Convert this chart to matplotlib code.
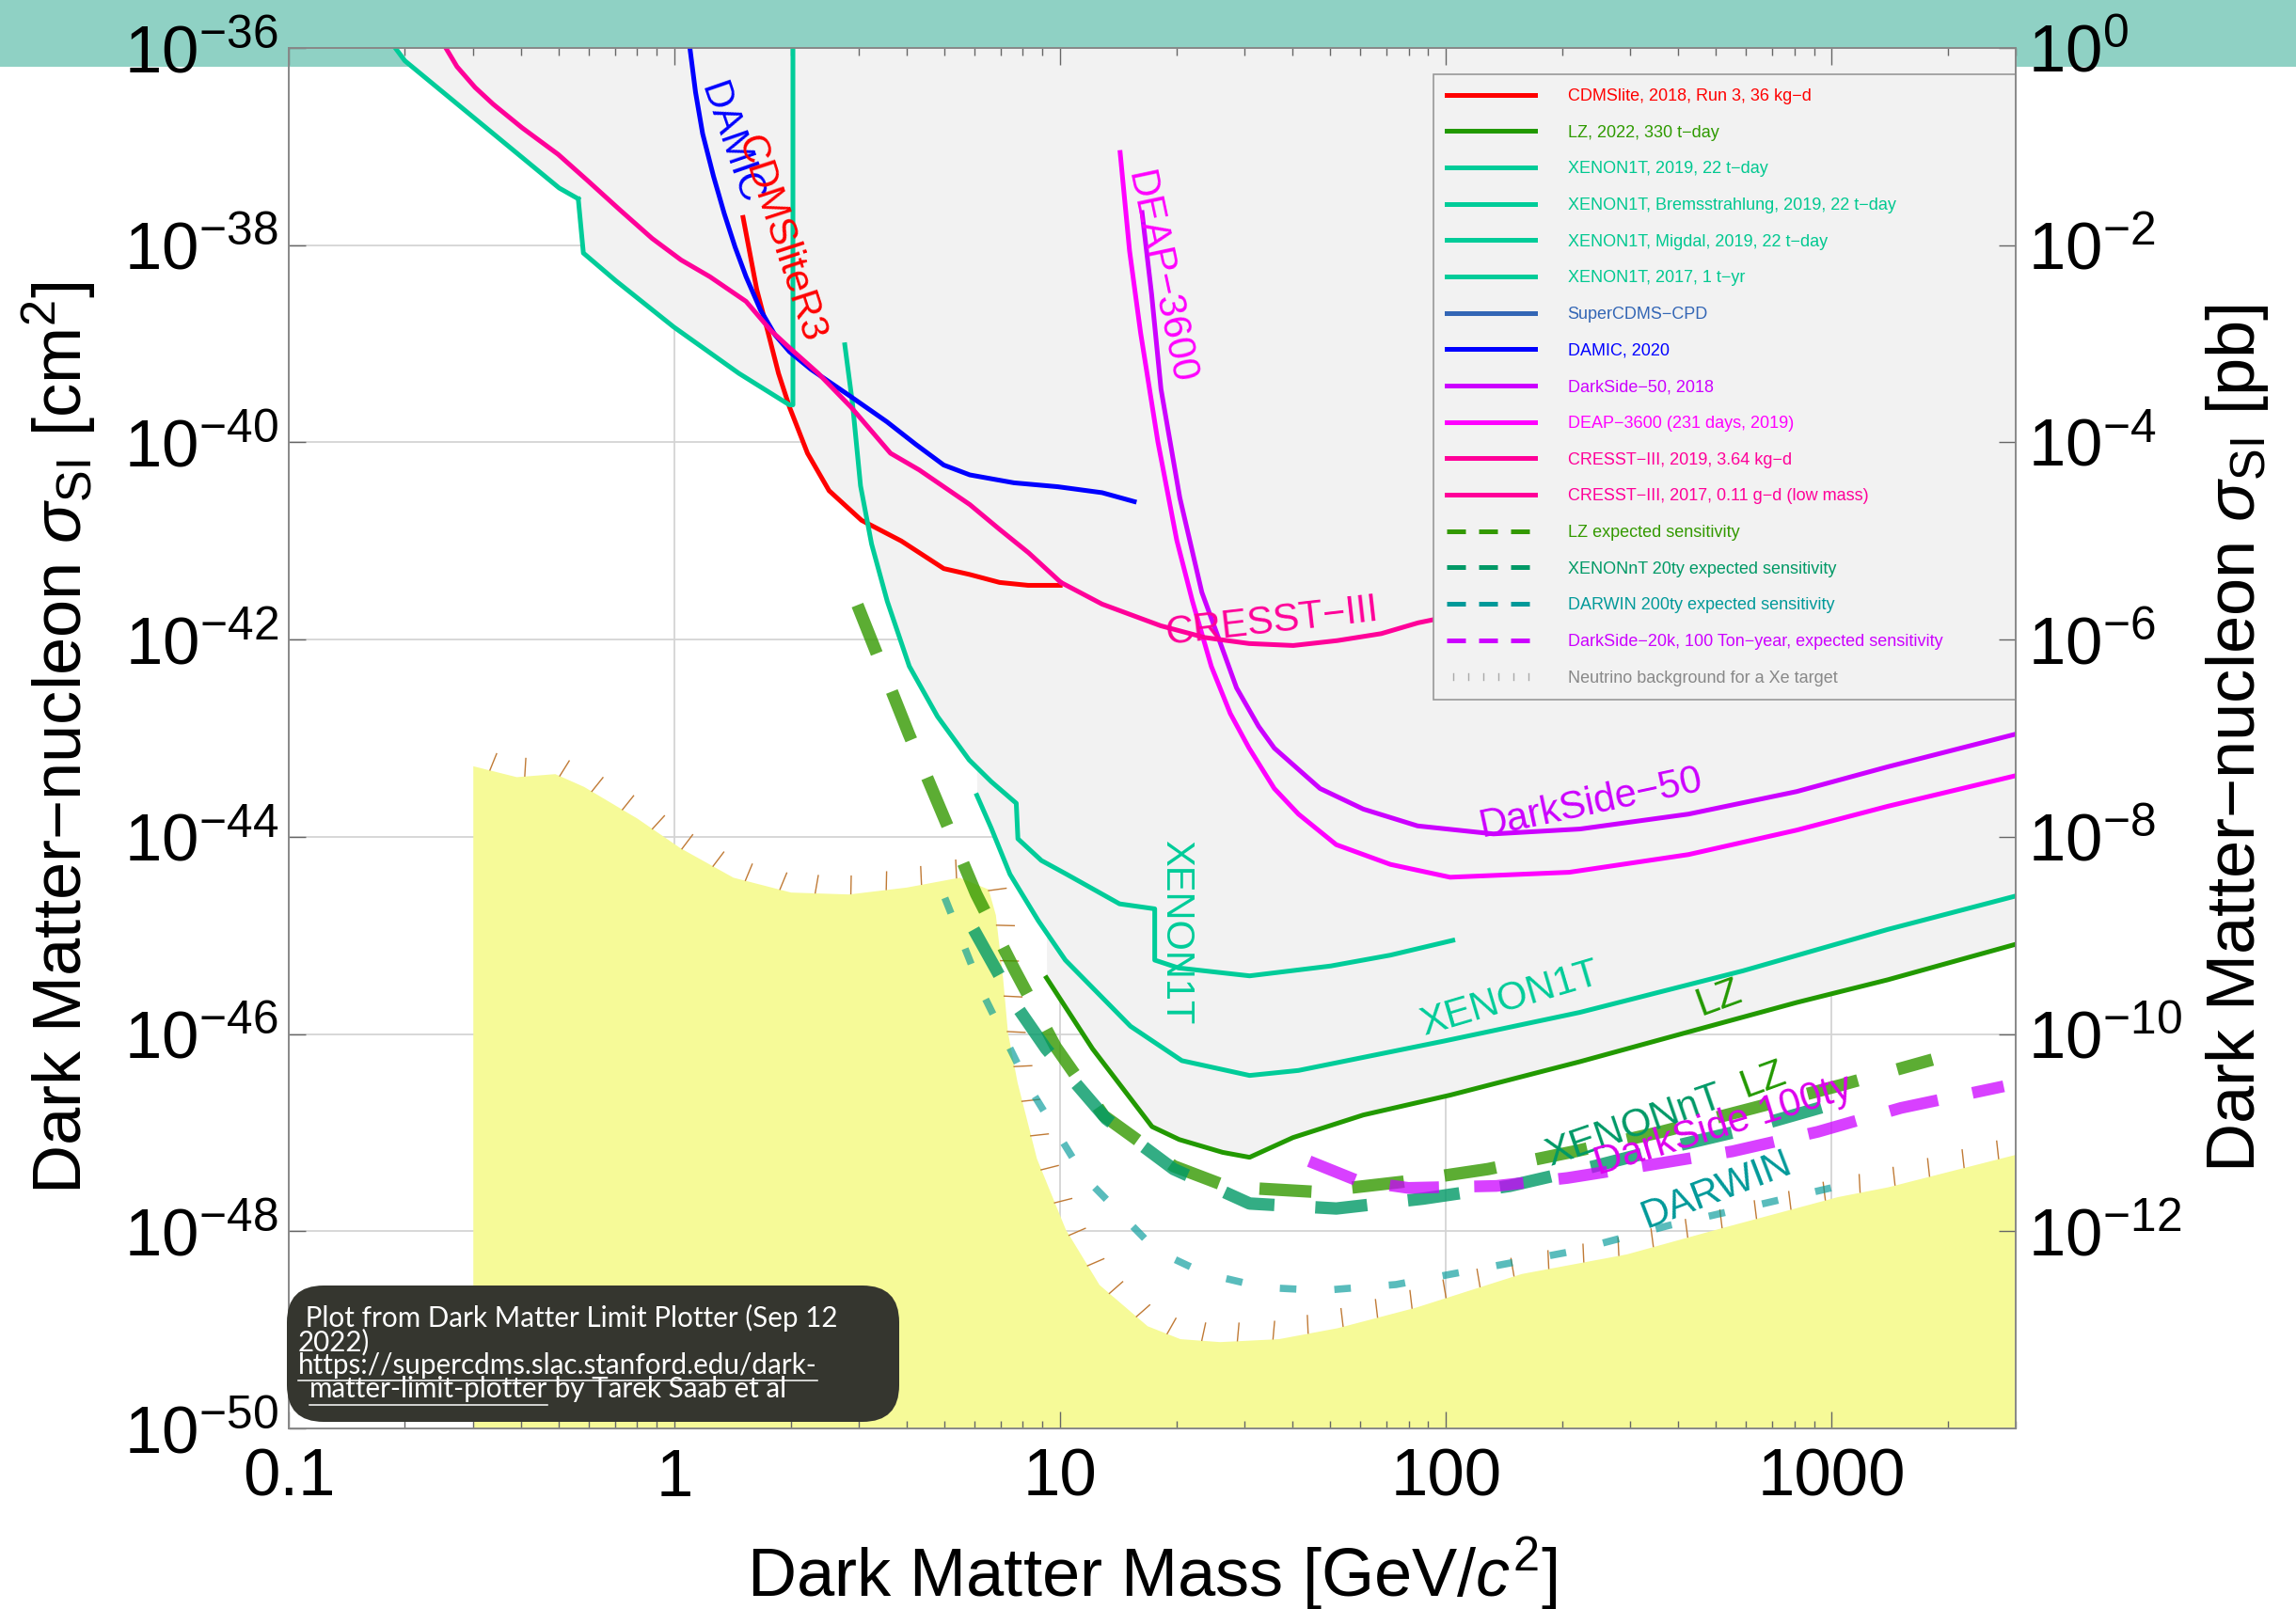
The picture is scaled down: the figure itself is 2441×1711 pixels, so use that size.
import numpy as np
import matplotlib
matplotlib.use('Agg')
import matplotlib.pyplot as plt
from matplotlib.lines import Line2D
from matplotlib.patches import Rectangle, FancyBboxPatch
from matplotlib import patheffects
from matplotlib.ticker import FixedLocator, FuncFormatter, LogLocator, NullLocator, NullFormatter

plt.rcParams['font.family'] = 'Liberation Sans'
plt.rcParams['mathtext.fontset'] = 'custom'
plt.rcParams['mathtext.rm'] = 'Liberation Sans'
plt.rcParams['mathtext.it'] = 'Liberation Sans:italic'
plt.rcParams['mathtext.bf'] = 'Liberation Sans:bold'

# ---- data: WIMP mass [GeV/c^2] and SI cross section [cm^2] ----
cdms_mass = [1.506, 1.634, 1.744, 1.861, 1.986, 2.212, 2.516, 3.055, 3.873, 4.99, 5.83, 6.96, 8.26, 10.0]
cdms_xs = [1.91e-38, 3.55e-39, 1.35e-39, 5.0e-40, 2.29e-40, 7.76e-41, 3.24e-41, 1.62e-41, 1.0e-41,
           5.25e-42, 4.57e-42, 3.80e-42, 3.55e-42, 3.55e-42]

damic_mass = [1.098, 1.134, 1.183, 1.262, 1.346, 1.436, 1.533, 1.672, 1.822, 1.986, 2.259, 2.803, 3.552,
              4.222, 4.99, 5.83, 7.59, 9.86, 12.84, 15.56]
damic_xs = [9.55e-37, 3.55e-37, 1.35e-37, 5.01e-38, 2.09e-38, 9.55e-39, 4.79e-39, 2.19e-39, 1.23e-39,
            8.32e-40, 5.50e-40, 3.09e-40, 1.62e-40, 9.55e-41, 5.89e-41, 4.68e-41, 3.89e-41, 3.55e-41,
            3.09e-41, 2.51e-41]

cresst17_mass = [0.2554, 0.2730, 0.3041, 0.3388, 0.4027, 0.4996, 0.5934, 0.7209, 0.8751, 1.040, 1.235,
                 1.533, 1.782, 1.986, 2.359, 2.865, 3.631, 4.312, 4.99, 5.83, 6.95, 8.28, 10.04]
cresst17_xs = [1.0e-36, 6.46e-37, 3.98e-37, 2.69e-37, 1.55e-37, 8.32e-38, 4.57e-38, 2.29e-38, 1.17e-38,
               7.08e-39, 4.79e-39, 2.69e-39, 1.35e-39, 9.12e-40, 5.01e-40, 2.29e-40, 7.76e-41, 5.25e-41,
               3.55e-41, 2.34e-41, 1.32e-41, 7.59e-42, 3.80e-42]

cresst19_mass = [10.04, 12.84, 18.23, 23.7, 30.9, 40.2, 52.3, 68.0, 84.7, 103.6]
cresst19_xs = [3.80e-42, 2.29e-42, 1.38e-42, 1.05e-42, 9.12e-43, 8.71e-43, 9.77e-43, 1.15e-42, 1.48e-42, 1.74e-42]

brems_mass = [0.1889, 0.2, 0.5023, 0.563]
brems_xs = [1.0e-36, 7.41e-37, 3.80e-38, 2.95e-38]

migdal_mass = [0.563, 0.5805, 0.7039, 0.9956, 1.469, 1.986, 2.028, 2.028]
migdal_xs = [2.95e-38, 8.32e-39, 4.37e-39, 1.48e-39, 5.01e-40, 2.40e-40, 2.40e-40, 1.0e-36]

x1t19_mass = [2.764, 2.895, 3.036, 3.243, 3.561, 4.062, 4.807, 5.805, 6.622, 7.692, 7.768, 8.938, 10.39,
              14.25, 17.58, 17.58, 20.26, 30.97, 50.3, 71.8, 104.2]
x1t19_xs = [9.77e-40, 2.45e-40, 3.63e-41, 9.33e-42, 2.45e-42, 5.37e-43, 1.66e-43, 6.03e-44, 3.63e-44,
            2.19e-44, 9.55e-45, 5.75e-45, 4.17e-45, 2.09e-45, 1.86e-45, 5.62e-46, 4.68e-46, 3.89e-46,
            4.90e-46, 6.31e-46, 8.91e-46]

x1t17_mass = [6.081, 6.622, 7.409, 8.774, 10.31, 15.21, 20.67, 30.97, 41.46, 99.2, 222.7, 588.3, 1398, 3000]
x1t17_xs = [2.63e-44, 1.23e-44, 4.17e-45, 1.41e-45, 5.62e-46, 1.20e-46, 5.37e-47, 3.80e-47, 4.27e-47,
            8.51e-47, 1.66e-46, 4.37e-46, 1.15e-45, 2.51e-45]

lz_mass = [9.21, 12.13, 17.30, 20.35, 26.36, 30.97, 40.13, 61.07, 102.5, 222.7, 425.6, 812.3, 1398, 3000]
lz_xs = [3.72e-46, 7.08e-47, 1.15e-47, 8.51e-48, 6.31e-48, 5.62e-48, 8.91e-48, 1.51e-47, 2.40e-47,
         5.25e-47, 1.05e-46, 2.09e-46, 3.55e-46, 8.13e-46]

deap_mass = [14.30, 15.13, 16.16, 17.91, 20.05, 22.02, 24.64, 27.60, 30.87, 35.89, 41.46, 51.96, 71.78,
             102.5, 208.9, 425.6, 812.3, 1398, 3000]
deap_xs = [8.71e-38, 8.71e-39, 1.29e-39, 1.02e-40, 1.02e-41, 2.45e-42, 5.37e-43, 1.78e-43, 7.94e-44,
           3.09e-44, 1.70e-44, 8.32e-45, 5.25e-45, 3.89e-45, 4.37e-45, 6.61e-45, 1.17e-44, 2.04e-44, 4.17e-44]

ds50_mass = [16.30, 17.26, 18.25, 20.42, 23.29, 25.59, 28.65, 32.68, 35.89, 47.16, 61.07, 84.44, 132.8,
             222.7, 425.6, 812.3, 1398, 3000]
ds50_xs = [2.14e-38, 3.16e-39, 3.47e-40, 2.75e-41, 3.02e-42, 1.10e-42, 3.24e-43, 1.32e-43, 7.94e-44,
           3.09e-44, 1.91e-44, 1.29e-44, 1.07e-44, 1.20e-44, 1.70e-44, 2.88e-44, 5.13e-44, 1.10e-43]

lzproj_mass = [2.981, 4.051, 4.953, 6.055, 7.618, 9.731, 12.98, 19.68, 27.23, 45.68, 76.6, 128.6, 215.7,
               362.2, 627.8, 1052, 1824]
lzproj_xs = [2.24e-42, 1.10e-43, 1.70e-44, 2.63e-45, 4.47e-46, 7.41e-47, 1.48e-47, 4.57e-48, 2.82e-48,
             2.51e-48, 3.16e-48, 4.27e-48, 6.46e-48, 1.02e-47, 1.78e-47, 3.02e-47, 5.50e-47]

xnt_mass = [5.966, 7.685, 9.192, 13.16, 19.68, 30.97, 51.96, 87.2, 146.3, 237.7, 335, 563.9, 1031]
xnt_xs = [1.15e-45, 1.95e-46, 7.08e-47, 1.38e-47, 4.27e-48, 1.91e-48, 1.70e-48, 2.14e-48, 2.88e-48,
          4.47e-48, 6.31e-48, 1.02e-47, 2.0e-47]

darwin_mass = [5.023, 6.321, 8.312, 11.56, 17.80, 23.72, 33.71, 47.86, 74.2, 115.1, 208.9, 380.1, 702.2, 995.7]
darwin_xs = [2.40e-45, 2.51e-46, 2.88e-47, 3.55e-48, 6.31e-49, 3.72e-49, 2.69e-49, 2.51e-49, 2.88e-49,
             3.98e-49, 6.17e-49, 1.15e-48, 2.0e-48, 2.75e-48]

ds20k_mass = [44.22, 59.2, 79.9, 135.1, 206.6, 335, 552.7, 920.9, 1513, 2793]
ds20k_xs = [5.13e-48, 3.24e-48, 2.75e-48, 2.88e-48, 3.47e-48, 4.68e-48, 6.46e-48, 1.02e-47, 1.78e-47, 2.95e-47]

nu_mass = [0.3001, 0.3891, 0.4896, 0.5815, 0.7984, 1.033, 1.418, 2.001, 2.828, 3.991, 5.473, 6.506, 6.792,
           7.09, 7.299, 7.733, 8.677, 10.31, 12.61, 16.80, 20.44, 25.90, 36.79, 52.25, 83.55, 156.7, 293.9,
           511.1, 1034, 1398, 3000]
nu_xs = [5.25e-44, 4.07e-44, 4.37e-44, 3.24e-44, 1.55e-44, 7.76e-45, 3.89e-45, 2.75e-45, 2.63e-45, 3.09e-45,
         3.89e-45, 2.95e-45, 1.62e-45, 3.72e-46, 1.05e-46, 3.24e-47, 5.50e-48, 1.05e-48, 2.88e-49, 1.10e-49,
         8.13e-50, 7.59e-50, 8.13e-50, 1.05e-49, 1.70e-49, 3.72e-49, 5.89e-49, 1.07e-48, 2.24e-48, 2.82e-48,
         6.03e-48]

x_ticks = [0.1, 1, 10, 100, 1000]
x_ticklabels = ['0.1', '1', '10', '100', '1000']
y_ticks = [1e-36, 1e-38, 1e-40, 1e-42, 1e-44, 1e-46, 1e-48, 1e-50]
y2_ticks = [1e0, 1e-2, 1e-4, 1e-6, 1e-8, 1e-10, 1e-12]

W, H = 2441, 1711
fig = plt.figure(figsize=(W / 100, H / 100), dpi=100)
fig.patch.set_facecolor('white')
# teal banner across the top
fig.add_artist(Rectangle((0, 1 - 71 / H), 1, 71 / H, transform=fig.transFigure,
                         facecolor='#8fd1c4', edgecolor='none', zorder=-5))

ax = fig.add_axes([307 / W, 1 - 1519 / H, 1836 / W, 1468 / H])
ax.set_facecolor('none')
ax.set_xscale('log')
ax.set_yscale('log')
ax.set_xlim(0.1, 3000)
ax.set_ylim(1e-50, 1e-36)

for xv in x_ticks[1:]:
    ax.axvline(xv, color='#d4d4d4', lw=1.3, zorder=0.1)
for yv in y_ticks[1:-1]:
    ax.axhline(yv, color='#d4d4d4', lw=1.3, zorder=0.1)

# excluded region: everything above the lowest existing limit
limits = [(cdms_mass, cdms_xs), (damic_mass, damic_xs), (cresst17_mass, cresst17_xs),
          (cresst19_mass, cresst19_xs), (brems_mass, brems_xs), (migdal_mass, migdal_xs),
          (x1t19_mass, x1t19_xs), (x1t17_mass, x1t17_xs), (lz_mass, lz_xs),
          (deap_mass, deap_xs), (ds50_mass, ds50_xs)]
grid = np.logspace(-1, np.log10(3000), 5000)
env = np.full(grid.size, -36.0)
for m, s in limits:
    m = np.asarray(m)
    inside = (grid >= m.min()) & (grid <= m.max())
    vals = np.interp(np.log10(grid[inside]), np.log10(m), np.log10(s))
    env[inside] = np.minimum(env[inside], vals)
ax.fill_between(grid, 10 ** env, 1e-36, color='#f2f2f2', lw=0, zorder=0.3)

# neutrino floor
ax.fill_between(nu_mass, nu_xs, 1e-50, color='#f6fa98', lw=0, zorder=0.4)
ax.plot(nu_mass, nu_xs, color='#c07a35', lw=1.0, zorder=2,
        path_effects=[patheffects.TickedStroke(spacing=27, angle=82, length=0.5)])

lw = 3.6
l_cdms, = ax.plot(cdms_mass, cdms_xs, color='#ff0000', lw=lw, zorder=3)
l_lz, = ax.plot(lz_mass, lz_xs, color='#229900', lw=lw, zorder=3)
l_x19, = ax.plot(x1t19_mass, x1t19_xs, color='#00cc99', lw=lw, zorder=3)
l_brems, = ax.plot(brems_mass, brems_xs, color='#00cc99', lw=lw, zorder=3)
l_migdal, = ax.plot(migdal_mass, migdal_xs, color='#00cc99', lw=lw, zorder=3)
l_x17, = ax.plot(x1t17_mass, x1t17_xs, color='#00cc99', lw=lw, zorder=3)
l_damic, = ax.plot(damic_mass, damic_xs, color='#0000ff', lw=lw, zorder=3)
l_ds50, = ax.plot(ds50_mass, ds50_xs, color='#cc00ff', lw=lw, zorder=3)
l_deap, = ax.plot(deap_mass, deap_xs, color='#ff00ff', lw=lw, zorder=3)
l_c19, = ax.plot(cresst19_mass, cresst19_xs, color='#ff0099', lw=lw, zorder=3)
l_c17, = ax.plot(cresst17_mass, cresst17_xs, color='#ff0099', lw=lw, zorder=3)

ax.plot(lzproj_mass, lzproj_xs, color='#339900', alpha=0.8, lw=9.5, dashes=(4.2, 3.3),
        dash_capstyle='butt', zorder=4)
ax.plot(xnt_mass, xnt_xs, color='#009966', alpha=0.8, lw=9.5, dashes=(4.2, 3.3),
        dash_capstyle='butt', zorder=4)
ax.plot(darwin_mass, darwin_xs, color='#009999', alpha=0.65, lw=5.5, dashes=(2.3, 5.3),
        dash_capstyle='butt', zorder=4)
ax.plot(ds20k_mass, ds20k_xs, color='#cc00ff', alpha=0.75, lw=9, dashes=(4.2, 3.0),
        dash_capstyle='butt', zorder=4)

# curve labels
curve_labels = [
    ('DAMIC', 1.40, 1.08e-37, -71, '#0000ff'),
    ('CDMSliteR3', 1.88, 1.15e-38, -72, '#ff0000'),
    ('DEAP\u22123600', 18.1, 4.7e-39, -78, '#ff00ff'),
    ('CRESST\u2212III', 35.5, 1.5e-42, 6.5, '#ff0099'),
    ('DarkSide\u221250', 238, 2.2e-44, 12, '#cc00ff'),
    ('XENON1T', 19.9, 1.07e-45, -90, '#00cc99'),
    ('XENON1T', 146, 2.24e-46, 16.5, '#00cc99'),
    ('LZ', 511, 2.3e-46, 20, '#229900'),
    ('XENONnT', 307, 1.15e-47, 19, '#009966'),
    ('LZ', 665, 3.4e-47, 20, '#229900'),
    ('DarkSide 100ty', 525, 1.17e-47, 17, '#dd00ee'),
    ('DARWIN', 502, 2.6e-48, 21, '#009999'),
]
for txt, xx, yy, rot, col in curve_labels:
    ax.text(xx, yy, txt, color=col, fontsize=30, rotation=rot, rotation_mode='anchor',
            ha='center', va='center', zorder=6)

# axes cosmetics
for sp in ax.spines.values():
    sp.set_color('#888888')
    sp.set_linewidth(1.2)
ax.xaxis.set_major_locator(FixedLocator(x_ticks))
ax.set_xticklabels(x_ticklabels)
ax.xaxis.set_minor_locator(LogLocator(base=10, subs=np.arange(2, 10)))
ax.xaxis.set_minor_formatter(NullFormatter())
ax.yaxis.set_major_locator(FixedLocator(y_ticks))
ax.yaxis.set_major_formatter(FuncFormatter(lambda v, p: r'$10^{%d}$' % round(np.log10(v))))
ax.yaxis.set_minor_locator(NullLocator())
ax.tick_params(which='major', direction='in', length=13, width=1.0, color='#666666',
               labelsize=51, top=True, right=False)
ax.tick_params(axis='x', which='major', pad=15)
ax.tick_params(axis='y', which='major', pad=8)
ax.tick_params(axis='x', which='minor', direction='in', length=6, width=1.0, color='#666666', top=True)

ax.set_xlabel('Dark Matter Mass [GeV/$c^2$]', fontsize=52, va='center')
ax.xaxis.set_label_coords(0.5, -0.105)
ax.set_ylabel('Dark Matter\u2212nucleon $\\sigma_{\\mathrm{SI}}$ [cm$^2$]', fontsize=52, va='center')
ax.yaxis.set_label_coords(-0.1334, 0.5)

ax2 = ax.twinx()
ax2.set_yscale('log')
ax2.set_ylim(1e-14, 1e0)
ax2.yaxis.set_major_locator(FixedLocator(y2_ticks))
ax2.yaxis.set_major_formatter(FuncFormatter(lambda v, p: r'$10^{%d}$' % round(np.log10(v))))
ax2.yaxis.set_minor_locator(NullLocator())
ax2.tick_params(which='major', direction='in', length=13, width=1.0, color='#666666',
                labelsize=51, pad=9)
for sp in ax2.spines.values():
    sp.set_color('#888888')
    sp.set_linewidth(1.2)
ax2.set_ylabel('Dark Matter\u2212nucleon $\\sigma_{\\mathrm{SI}}$ [pb]', fontsize=52, va='center')
ax2.yaxis.set_label_coords(1.1285, 0.5)

# legend
nu_handle = Line2D([], [], color='#aaaaaa', lw=1.0,
                   path_effects=[patheffects.TickedStroke(offset=(0, -3), spacing=10, angle=90, length=0.55)])
handles = [l_cdms, l_lz, l_x19, l_brems, l_migdal, l_x17,
           Line2D([], [], color='#3366b5', lw=lw), l_damic, l_ds50, l_deap, l_c19, l_c17,
           Line2D([], [], color='#339900', lw=3.6, dashes=(4, 2.8)),
           Line2D([], [], color='#009966', lw=3.6, dashes=(4, 2.8)),
           Line2D([], [], color='#009999', lw=3.6, dashes=(4, 2.8)),
           Line2D([], [], color='#cc00ff', lw=3.6, dashes=(4, 2.8)),
           nu_handle]
labels = ['CDMSlite, 2018, Run 3, 36 kg\u2212d', 'LZ, 2022, 330 t\u2212day', 'XENON1T, 2019, 22 t\u2212day',
          'XENON1T, Bremsstrahlung, 2019, 22 t\u2212day', 'XENON1T, Migdal, 2019, 22 t\u2212day',
          'XENON1T, 2017, 1 t\u2212yr', 'SuperCDMS\u2212CPD', 'DAMIC, 2020', 'DarkSide\u221250, 2018',
          'DEAP\u22123600 (231 days, 2019)', 'CRESST\u2212III, 2019, 3.64 kg\u2212d',
          'CRESST\u2212III, 2017, 0.11 g\u2212d (low mass)', 'LZ expected sensitivity',
          'XENONnT 20ty expected sensitivity', 'DARWIN 200ty expected sensitivity',
          'DarkSide\u221220k, 100 Ton\u2212year, expected sensitivity', 'Neutrino background for a Xe target']
label_colors = ['#ff0000', '#2e9a00', '#00c890', '#00c890', '#00c890', '#00c890', '#3366b5', '#0000ff',
                '#cc00ff', '#ff00ff', '#ff0099', '#ff0099', '#339900', '#009966', '#009999', '#cc00ff',
                '#888888']
leg = ax.legend(handles, labels, loc='upper left', bbox_to_anchor=(0.6628, 0.9806, 0.3372, 0),
                mode='expand', borderaxespad=0,
                fontsize=13, labelcolor=label_colors, frameon=True, fancybox=False, framealpha=1,
                facecolor='#f2f2f2', edgecolor='#999999', handlelength=5.2, handletextpad=1.9,
                labelspacing=1.2, borderpad=0.8)
leg.get_frame().set_linewidth(1.2)
leg.set_zorder(10)

# credit box
def fpos(px, py):
    return px / W, 1 - py / H

bx0, by0 = fpos(305, 1512)
bx1, by1 = fpos(956, 1367)
fig.add_artist(FancyBboxPatch((bx0, by0), bx1 - bx0, by1 - by0, transform=fig.transFigure,
                              boxstyle='round,pad=0,rounding_size=0.016', facecolor='#35362f',
                              edgecolor='none', zorder=20, mutation_aspect=W / H))
tkw = dict(color='white', fontsize=21.3, family='Lato', va='baseline', ha='left', zorder=21)
fig.text(*fpos(317, 1411), ' Plot from Dark Matter Limit Plotter (Sep 12', **tkw)
fig.text(*fpos(317, 1436), '2022)', **tkw)
t3 = fig.text(*fpos(317, 1461), 'https://supercdms.slac.stanford.edu/dark-', **tkw)
t4 = fig.text(*fpos(329, 1486), 'matter-limit-plotter', **tkw)
fig.canvas.draw()
inv = fig.transFigure.inverted()
b3 = t3.get_window_extent()
b4 = t4.get_window_extent()
for bb, uy in ((b3, 1468), (b4, 1494)):
    (ux0, _), (ux1, _) = inv.transform([(bb.x0, 0), (bb.x1, 0)])
    fig.add_artist(Line2D([ux0, ux1], [1 - uy / H] * 2, transform=fig.transFigure,
                          color='white', lw=1.1, zorder=21))
fig.text(inv.transform((b4.x1, 0))[0], 1 - 1486 / H, ' by Tarek Saab et al', **tkw)

fig.savefig('out.png', dpi=100, facecolor='white')
